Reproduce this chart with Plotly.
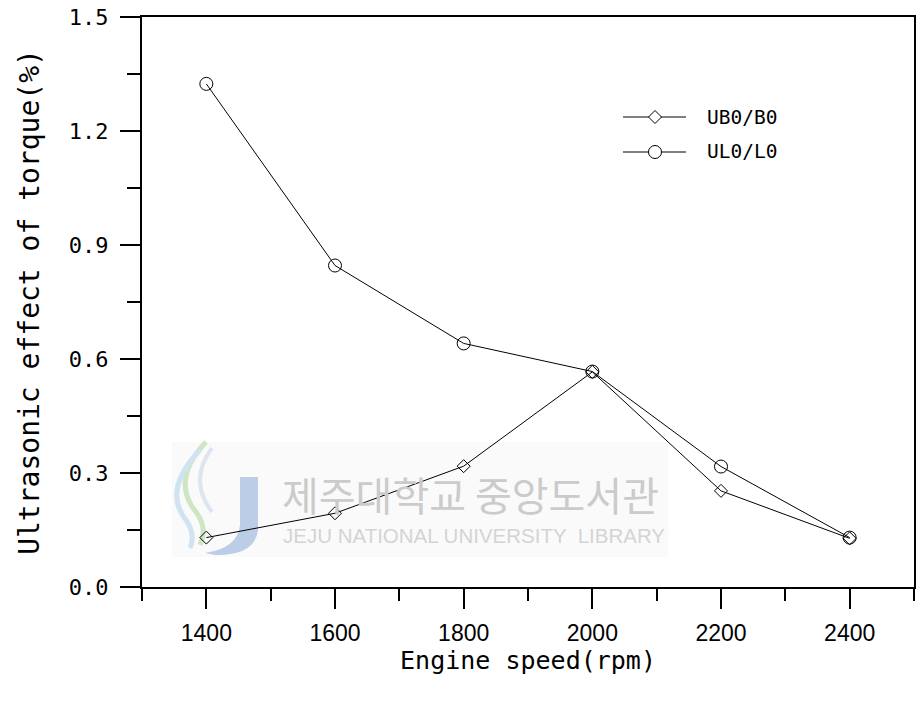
import plotly.graph_objects as go

# ---- data ----
engine_speed = [1400, 1600, 1800, 2000, 2200, 2400]
ub0_b0 = [0.130, 0.194, 0.318, 0.566, 0.253, 0.128]
ul0_l0 = [1.324, 0.846, 0.641, 0.567, 0.317, 0.130]
series_names = ["UB0/B0", "UL0/L0"]
x_ticks = [1400, 1600, 1800, 2000, 2200, 2400]
y_ticks = [0.0, 0.3, 0.6, 0.9, 1.2, 1.5]
y_tick_labels = ["0.0", "0.3", "0.6", "0.9", "1.2", "1.5"]
x_title = "Engine speed(rpm)"
y_title = "Ultrasonic effect of torque(%)"
wm_korean = "제주대학교 중앙도서관"
wm_english = "JEJU NATIONAL UNIVERSITY  LIBRARY"

W, H = 917, 707
# plot area in page pixels
PL, PR, PT, PB = 142, 914, 17, 587
L, T, R, B = PL, PT, W - PR, H - PB
PW, PH = PR - PL, PB - PT


def px(x):
    return (x - PL) / PW


def py(y):
    return (PB - y) / PH


fig = go.Figure()
fig.add_trace(go.Scatter(
    x=engine_speed, y=ub0_b0, name=series_names[0], mode="lines+markers",
    line=dict(color="black", width=1),
    marker=dict(symbol="diamond-open", size=10, color="black", line=dict(width=1)),
    showlegend=False,
))
fig.add_trace(go.Scatter(
    x=engine_speed, y=ul0_l0, name=series_names[1], mode="lines+markers",
    line=dict(color="black", width=1),
    marker=dict(symbol="circle-open", size=13, color="black", line=dict(width=1)),
    showlegend=False,
))

shapes = []
annotations = []

# ---- watermark (behind data) ----
shapes.append(dict(type="rect", xref="paper", yref="paper", layer="below",
                   x0=px(172), x1=px(668), y0=py(557), y1=py(442),
                   fillcolor="#fafafa", line=dict(width=0)))
shapes.append(dict(type="path", xref="paper", yref="paper", layer="below",
                   path=f"M {px(206)},{py(442)} Q {px(170)},{py(480)} {px(196)},{py(512)} Q {px(208)},{py(528)} {px(200)},{py(545)}",
                   line=dict(color="#cfe6c4", width=5)))
shapes.append(dict(type="path", xref="paper", yref="paper", layer="below",
                   path=f"M {px(200)},{py(450)} Q {px(162)},{py(490)} {px(186)},{py(520)} Q {px(196)},{py(535)} {px(190)},{py(548)}",
                   line=dict(color="#cfe3f3", width=5)))
shapes.append(dict(type="path", xref="paper", yref="paper", layer="below",
                   path=f"M {px(212)},{py(448)} Q {px(188)},{py(480)} {px(212)},{py(512)}",
                   line=dict(color="#dde6ee", width=4)))
shapes.append(dict(type="path", xref="paper", yref="paper", layer="below",
                   path=(f"M {px(240)},{py(477)} L {px(258)},{py(477)} L {px(258)},{py(530)} "
                         f"Q {px(255)},{py(556)} {px(215)},{py(555)} L {px(205)},{py(553)} "
                         f"Q {px(238)},{py(548)} {px(240)},{py(525)} Z"),
                   fillcolor="#bccde8", line=dict(width=0)))
annotations.append(dict(xref="paper", yref="paper", x=px(280), y=py(494),
                        xanchor="left", yanchor="middle", showarrow=False,
                        text=wm_korean,
                        font=dict(family="Noto Sans CJK KR", size=40, color="#cbcbcb")))
annotations.append(dict(xref="paper", yref="paper", x=px(281), y=py(535),
                        xanchor="left", yanchor="middle", showarrow=False,
                        text=wm_english,
                        font=dict(family="Liberation Sans", size=20.5, color="#d4d4d4")))

# ---- legend (drawn manually to match the long legend lines) ----
leg_rows = [117, 152]
for i, (name, yrow) in enumerate(zip(series_names, leg_rows)):
    shapes.append(dict(type="line", xref="paper", yref="paper",
                       x0=px(623), x1=px(686), y0=py(yrow), y1=py(yrow),
                       line=dict(color="black", width=1)))
    if i == 0:
        shapes.append(dict(type="path", xref="paper", yref="paper",
                           xsizemode="pixel", ysizemode="pixel",
                           xanchor=px(655), yanchor=py(yrow),
                           path="M -6.5,0 L 0,6.5 L 6.5,0 L 0,-6.5 Z",
                           fillcolor="white", line=dict(color="black", width=1)))
    else:
        shapes.append(dict(type="circle", xref="paper", yref="paper",
                           xsizemode="pixel", ysizemode="pixel",
                           xanchor=px(655), yanchor=py(yrow),
                           x0=-6.5, x1=6.5, y0=-6.5, y1=6.5,
                           fillcolor="white", line=dict(color="black", width=1)))
    annotations.append(dict(xref="paper", yref="paper", x=px(705), y=py(yrow),
                            xanchor="left", yanchor="middle", showarrow=False,
                            text=name,
                            font=dict(family="DejaVu Sans Mono", size=19.5, color="black")))

fig.update_layout(
    width=W, height=H,
    margin=dict(l=L, r=R, t=T, b=B, autoexpand=False),
    paper_bgcolor="white", plot_bgcolor="white",
    showlegend=False, hovermode=False,
    shapes=shapes, annotations=annotations,
)
fig.update_xaxes(
    range=[1300, 2500], tickmode="array", tickvals=x_ticks,
    showgrid=False, zeroline=False,
    showline=True, linecolor="black", linewidth=2, mirror=True,
    ticks="outside", ticklen=20, tickwidth=2, tickcolor="black",
    minor=dict(ticks="outside", tickmode="linear", dtick=100, tick0=1300, ticklen=12,
               tickwidth=2, tickcolor="black", showgrid=False),
    tickfont=dict(family="Liberation Sans", size=23, color="black"),
    ticklabelstandoff=4,
    title=dict(text=x_title, standoff=6,
               font=dict(family="DejaVu Sans Mono", size=25, color="black")),
    automargin=False,
)
fig.update_yaxes(
    range=[0, 1.5], tickmode="array", tickvals=y_ticks, ticktext=y_tick_labels,
    showgrid=False, zeroline=False,
    showline=True, linecolor="black", linewidth=2, mirror=True,
    ticks="outside", ticklen=20, tickwidth=2, tickcolor="black",
    minor=dict(ticks="outside", tickmode="linear", dtick=0.15, tick0=0, ticklen=13,
               tickwidth=2, tickcolor="black", showgrid=False),
    tickfont=dict(family="DejaVu Sans Mono", size=22, color="black"),
    ticklabelstandoff=7,
    title=dict(text=y_title, standoff=21,
               font=dict(family="DejaVu Sans Mono", size=28, color="black")),
    automargin=False,
)

fig.write_html(
    "out.html",
    config={"displayModeBar": False, "staticPlot": True},
    post_script="document.body.style.margin='0';document.body.style.overflow='hidden';",
)
